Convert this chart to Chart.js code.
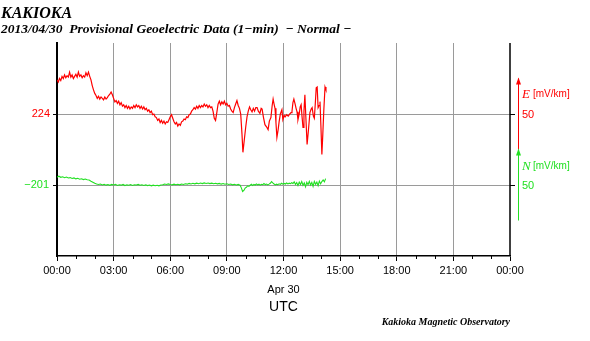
<!DOCTYPE html>
<html>
<head>
<meta charset="utf-8">
<script src="https://cdn.jsdelivr.net/npm/chart.js@4.4.1/dist/chart.umd.min.js"></script>
<style>
  html, body { margin: 0; padding: 0; background: #fff; }
  #wrap { width: 590px; height: 341px; }
</style>
</head>
<body>
<div id="wrap"><canvas id="c" width="590" height="341"></canvas></div>
<script>
// ---- Data (minutes after 00:00 UTC, values) ----
const titleMain = 'KAKIOKA';
const titleSub = '2013/04/30  Provisional Geoelectric Data (1\u2212min)  \u2212 Normal \u2212';
const footerText = 'Kakioka Magnetic Observatory';
const dateLabel = 'Apr 30';
const tzLabel = 'UTC';

const eBase = 224;   // E component reference level (mV/km)
const nBase = -201;  // N component reference level (mV/km)
const scaleSpan = 50; // scale bar, mV/km

const eTimes = [0,4,8,12,16,20,24,28,32,36,40,44,48,52,56,60,64,68,72,76,80,84,88,92,96,100,104,108,112,116,120,124,128,132,136,140,144,148,152,156,160,164,168,172,176,180,184,188,192,196,200,204,208,212,216,220,224,228,232,236,240,244,248,252,256,260,264,268,272,276,280,284,288,292,296,300,304,308,312,316,320,324,328,332,336,340,344,348,352,356,360,364,368,372,376,380,384,388,392,396,400,404,408,412,416,420,424,428,432,436,440,444,448,452,456,460,464,468,472,476,480,484,488,492,496,500,504,508,512,516,520,524,528,532,536,540,544,548,552,556,560,564,568,572,576,580,584,588,591,595,600,604,608,612,616,620,624,628,632,636,640,645,649,652,656,661,666,671,675,680,684,687,690,693,696,699,703,706,710,715,718,722,725,730,735,740,744,747,750,753,757,760,763,766,770,773,776,779,782,785,788,791,795,799,804,808,811,815,818,821,824,827,830,833,836,839,842,845,848,852,855];
const eValues = [248,246.5,249,247.5,250.5,249,251.5,249.5,251,250,253.5,250,251.5,249,250.5,252,250,253.5,250.5,251.5,249.5,251,250,253,251,253.5,250.5,248,244,241,238.5,237,235,236.5,234.5,236,235,234,236,234.5,235.5,237,238,239.5,237.5,235,232.5,233.5,231.5,233,230.5,232,229.5,230.5,228.5,230,228,229.5,227.5,229,228,230,228.5,230.5,229,230,228,229.5,227.5,229,227,228,226,227,225,226,223.5,224,222,221.5,219.5,220.5,218,219.5,217.5,219,217,218.5,218,220,222,223.5,221,218.5,217,218,215.5,217,216,218.5,219,220.5,220,222,221.5,223.5,224,226,227,228.5,227.5,229.5,228,230,228.5,230,229,231,229.5,230.5,228.5,230,228.5,229,226,221,219.5,225,231,233,230.5,232.5,231,233,230.5,231.5,229.5,230,227.5,226,225,228.5,231,233.5,230,228,224,210,197,205,215,222,226,229,227,225.5,228,226,228.5,228.5,226,224.5,228,227.5,222,216.5,215,213,219,221.5,230,234.5,231,228,218,207.5,213,218.5,224,227,220,223,222,223.5,222.5,224,225,226,232,234.5,231,228,225.5,220,224,229,230.5,222,214.5,226,237.5,222,202.5,212,225,227.5,228.5,222.5,221,231,242.5,243,228.5,230,232.7,215,195.5,210,226,243,241];

const nTimes = [0,6,12,18,24,30,36,42,48,54,60,66,72,78,84,90,96,102,108,114,120,126,132,138,144,150,156,162,168,174,180,186,192,198,204,210,216,222,228,234,240,246,252,258,264,270,276,282,288,294,300,306,312,318,324,330,336,342,348,354,360,366,372,378,384,390,396,402,408,414,420,426,432,438,444,450,456,462,468,474,480,486,492,498,504,510,516,522,528,534,540,546,552,558,564,570,576,582,586,590,594,598,602,606,610,614,618,622,626,630,634,638,642,646,650,654,658,662,666,670,674,678,682,686,690,694,698,702,706,710,714,718,722,726,730,734,738,742,746,750,754,758,762,766,770,774,778,782,786,790,794,798,802,806,810,814,818,822,826,830,834,838,842,846,850,854];
const nValues = [-195.5,-194.8,-195.6,-195.2,-195.9,-195.4,-196.1,-195.8,-196.4,-196.0,-196.7,-196.3,-196.9,-196.6,-197.2,-196.8,-197.3,-197.5,-198.3,-199.0,-199.8,-200.3,-200.6,-200.3,-201.0,-200.5,-201.1,-200.7,-201.2,-200.6,-201.0,-200.5,-201.3,-200.8,-201.1,-200.6,-201.4,-200.9,-201.2,-200.7,-201.3,-200.8,-201.0,-200.6,-201.2,-200.8,-201.3,-200.9,-201.4,-201.0,-201.6,-201.1,-201.5,-201.2,-201.6,-201.0,-200.8,-200.3,-200.6,-200.2,-200.6,-200.9,-200.4,-200.8,-200.5,-200.9,-200.3,-200.6,-200.1,-200.4,-199.9,-200.3,-199.8,-200.2,-199.7,-200.1,-199.6,-200.0,-199.5,-199.9,-199.6,-200.0,-199.7,-200.1,-199.8,-200.2,-199.9,-200.4,-200.0,-200.5,-200.1,-200.6,-200.3,-200.9,-200.5,-201.0,-200.6,-201.2,-203.0,-205.6,-204.8,-203.2,-202.6,-201.6,-202.0,-201.2,-200.5,-201.3,-200.6,-201.0,-200.2,-200.9,-200.4,-201.1,-200.5,-200.8,-200.0,-200.7,-200.3,-200.9,-200.4,-199.8,-198.6,-199.5,-200.3,-200.9,-200.4,-200.8,-200.2,-200.6,-199.8,-200.4,-199.9,-200.3,-199.6,-200.2,-199.7,-200.1,-199.4,-200.0,-198.8,-200.6,-199.3,-201.4,-199.0,-200.7,-198.6,-201.2,-199.5,-202.3,-199.1,-200.8,-198.4,-201.0,-199.2,-202.0,-198.5,-200.5,-199.0,-201.5,-198.2,-200.2,-198.6,-197.4,-198.8,-196.5];

const xTickStep = 60;      // minor tick every hour
const xLabelStep = 180;    // labelled every 3 hours

// ---- Styles ----
const RED = '#ff0000';
const GREEN = '#22e022';
const GRID = '#9a9a9a';
const SANS = '"Liberation Sans", Arial, Helvetica, sans-serif';
const SERIF = '"Liberation Serif", "Times New Roman", serif';

function fmtTime(m) {
  const h = Math.floor(m / 60) % 24;
  const mm = m % 60;
  return String(h).padStart(2, '0') + ':' + String(mm).padStart(2, '0');
}
function fmtNum(v) { return String(v).replace('-', '\u2212'); }

// width of the N reference label, used to place the mirrored tick label left of the axis
const measureCtx = document.createElement('canvas').getContext('2d');
measureCtx.font = '11px ' + SANS;
const nLabelWidth = measureCtx.measureText(fmtNum(nBase)).width;

const ePoints = eTimes.map((t, i) => ({ x: t, y: eValues[i] }));
const nPoints = nTimes.map((t, i) => ({ x: t, y: nValues[i] }));

const deco = {
  id: 'deco',
  afterDraw(chart) {
    const { ctx, chartArea: a, scales } = chart;
    const sx = scales.x, sE = scales.yE, sN = scales.yN;
    ctx.save();
    // right frame line
    ctx.strokeStyle = '#000';
    ctx.lineWidth = 1.5;
    ctx.beginPath();
    ctx.moveTo(a.right, a.top);
    ctx.lineTo(a.right, a.bottom);
    ctx.stroke();
    // right ticks
    ctx.lineWidth = 1;
    [sE.getPixelForValue(eBase), sN.getPixelForValue(nBase)].forEach(py => {
      ctx.beginPath();
      ctx.moveTo(a.right, Math.round(py) + 0.5);
      ctx.lineTo(a.right + 5, Math.round(py) + 0.5);
      ctx.stroke();
    });
    // minor x ticks (hourly)
    for (let m = xTickStep; m < 1440; m += xTickStep) {
      if (m % xLabelStep === 0) continue;
      const px = Math.round(sx.getPixelForValue(m)) + 0.5;
      ctx.beginPath();
      ctx.moveTo(px, a.bottom);
      ctx.lineTo(px, a.bottom + 3);
      ctx.stroke();
    }
    // scale arrows
    const ax = a.right + 8.5;
    function arrow(color, top, bottom) {
      ctx.strokeStyle = color;
      ctx.fillStyle = color;
      ctx.lineWidth = 1;
      ctx.beginPath();
      ctx.moveTo(ax, bottom);
      ctx.lineTo(ax, top);
      ctx.stroke();
      ctx.beginPath();
      ctx.moveTo(ax, top - 1);
      ctx.lineTo(ax - 2.5, top + 6);
      ctx.lineTo(ax + 2.5, top + 6);
      ctx.closePath();
      ctx.fill();
    }
    const eTop = sE.getPixelForValue(eBase + scaleSpan / 2);
    const eBot = sE.getPixelForValue(eBase - scaleSpan / 2);
    const nTop = sN.getPixelForValue(nBase + scaleSpan / 2);
    const nBot = sN.getPixelForValue(nBase - scaleSpan / 2);
    arrow(RED, eTop, eBot);
    arrow(GREEN, nTop, nBot);
    // right labels
    function compLabel(color, letter, y) {
      ctx.fillStyle = color;
      ctx.textBaseline = 'middle';
      ctx.textAlign = 'left';
      ctx.font = 'italic 13px ' + SERIF;
      ctx.fillText(letter, a.right + 12, y);
      ctx.font = '10px ' + SANS;
      ctx.fillText('[mV/km]', a.right + 23, y);
    }
    compLabel(RED, 'E', eTop + 16);
    compLabel(GREEN, 'N', nTop + 17);
    ctx.font = '11px ' + SANS;
    ctx.textBaseline = 'middle';
    ctx.fillStyle = RED;
    ctx.fillText(String(scaleSpan), a.right + 12, sE.getPixelForValue(eBase) + 1);
    ctx.fillStyle = GREEN;
    ctx.fillText(String(scaleSpan), a.right + 12, sN.getPixelForValue(nBase) + 1);
    // titles
    ctx.fillStyle = '#000';
    ctx.textBaseline = 'alphabetic';
    ctx.textAlign = 'left';
    ctx.font = 'bold italic 16px ' + SERIF;
    ctx.fillText(titleMain, 1, 18);
    ctx.font = 'bold italic 13.5px ' + SERIF;
    ctx.fillText(titleSub, 1, 33);
    // date and timezone under axis
    const cx = sx.getPixelForValue(720);
    ctx.textAlign = 'center';
    ctx.textBaseline = 'middle';
    ctx.font = '11px ' + SANS;
    ctx.fillText(dateLabel, cx, 290);
    ctx.font = '14px ' + SANS;
    ctx.fillText(tzLabel, cx, 307);
    // footer
    ctx.textAlign = 'right';
    ctx.textBaseline = 'alphabetic';
    ctx.font = 'bold italic 10px ' + SERIF;
    ctx.fillText(footerText, a.right, 325);
    ctx.restore();
  }
};

new Chart(document.getElementById('c'), {
  type: 'line',
  data: {
    datasets: [
      { label: 'E', data: ePoints, yAxisID: 'yE', borderColor: RED, borderWidth: 1.2, pointRadius: 0, tension: 0, fill: false },
      { label: 'N', data: nPoints, yAxisID: 'yN', borderColor: GREEN, borderWidth: 1.1, pointRadius: 0, tension: 0, fill: false }
    ]
  },
  options: {
    responsive: false,
    animation: false,
    devicePixelRatio: 1,
    layout: { padding: { left: 0, right: 80, top: 43, bottom: 0 } },
    plugins: { legend: { display: false }, tooltip: { enabled: false }, title: { display: false } },
    scales: {
      x: {
        type: 'linear',
        min: 0, max: 1440,
        afterFit(s) { s.height = 85; },
        afterBuildTicks(s) {
          const t = [];
          for (let m = 0; m <= 1440; m += xLabelStep) t.push({ value: m });
          s.ticks = t;
        },
        ticks: {
          autoSkip: false, maxRotation: 0, padding: 3,
          color: '#000',
          font: { family: SANS, size: 11 },
          callback: (v) => fmtTime(v)
        },
        grid: {
          color: (c) => (c.tick && (c.tick.value === 0 || c.tick.value === 1440)) ? 'rgba(0,0,0,0)' : GRID,
          lineWidth: 1,
          tickColor: '#000',
          tickLength: 5,
          drawTicks: true
        },
        border: { display: true, color: '#000', width: 1.5 }
      },
      yE: {
        type: 'linear',
        position: 'left',
        weight: 1,
        min: eBase - 2 * scaleSpan, max: eBase + scaleSpan,
        afterFit(s) { s.width = 57; },
        afterBuildTicks(s) { s.ticks = [{ value: eBase }]; },
        ticks: { color: RED, padding: 3, font: { family: SANS, size: 11 }, callback: (v) => fmtNum(v) },
        grid: { color: GRID, lineWidth: 1, tickColor: '#000', tickLength: 4 },
        border: { display: true, color: '#000', width: 2 }
      },
      yN: {
        type: 'linear',
        position: 'left',
        weight: 0,
        min: nBase - scaleSpan, max: nBase + 2 * scaleSpan,
        afterFit(s) { s.width = 0; },
        afterBuildTicks(s) { s.ticks = [{ value: nBase }]; },
        ticks: {
          color: GREEN, mirror: true, crossAlign: 'near',
          padding: -(nLabelWidth + 8),
          font: { family: SANS, size: 11 }, callback: (v) => fmtNum(v)
        },
        grid: { color: GRID, lineWidth: 1, tickColor: '#000', tickLength: 4 },
        border: { display: false }
      }
    }
  },
  plugins: [deco]
});
</script>
</body>
</html>
